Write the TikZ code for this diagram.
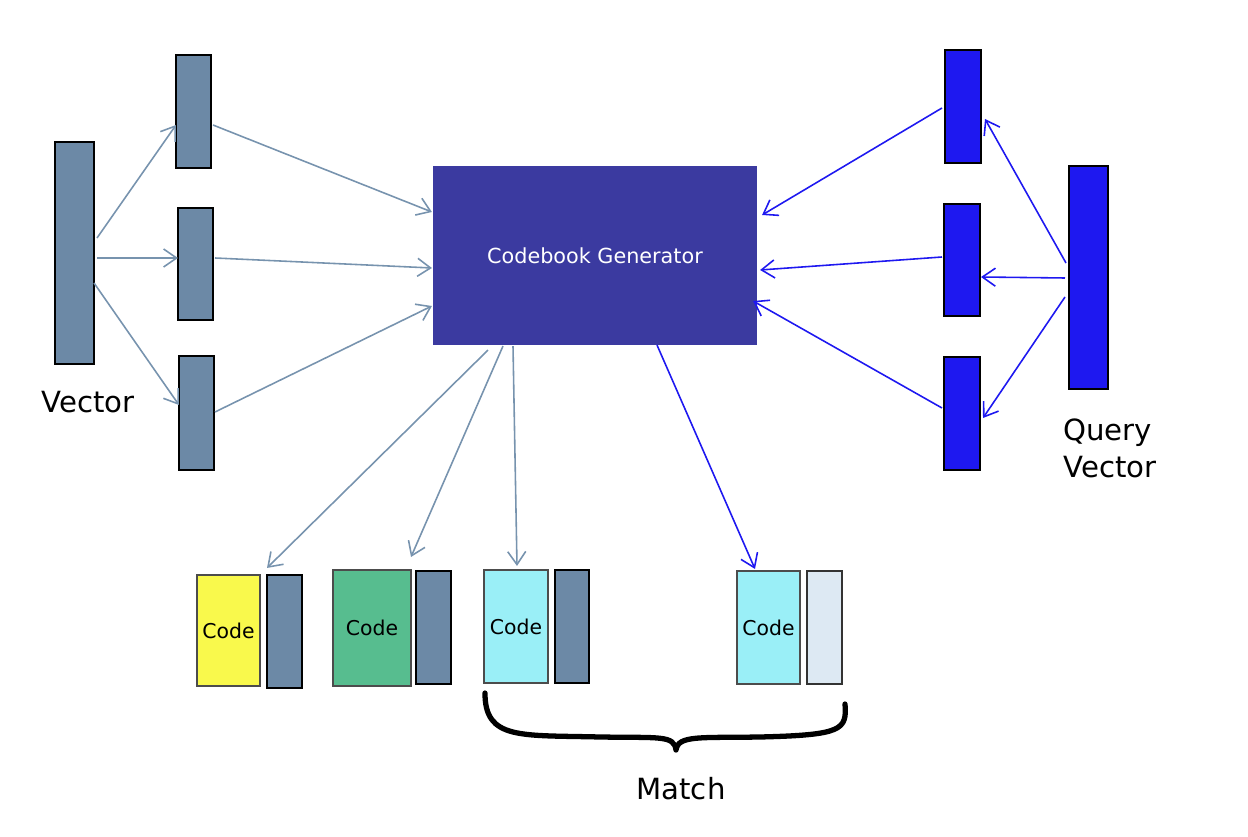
\documentclass[tikz,border=0pt]{standalone}
\usepackage{fontspec}
\setmainfont{DejaVu Sans}
\usetikzlibrary{calc,arrows.meta}
\definecolor{slate}{HTML}{6C89A6}
\definecolor{slatearrow}{HTML}{7793AE}
\definecolor{qblue}{HTML}{1E18F0}
\definecolor{cbfill}{HTML}{3B3AA0}
\definecolor{codeyellow}{HTML}{F9F94C}
\definecolor{codegreen}{HTML}{57BD8F}
\definecolor{codecyan}{HTML}{9AEFF7}
\definecolor{paleblue}{HTML}{DDE9F3}
\tikzset{>={Straight Barb[length=1.3mm,width=1.8mm]}}
\tikzset{
  bar/.style={draw=black,line width=0.6pt,inner sep=0pt,outer sep=0pt},
  vecbar/.style={bar,fill=slate},
  qbar/.style={bar,fill=qblue},
  codebox/.style={draw=black!70,line width=0.4pt,inner sep=0pt,outer sep=0pt,
    font=\fontsize{5.8}{7}\selectfont},
  grayarrow/.style={->,draw=slatearrow,line width=0.45pt},
  bluearrow/.style={->,draw=qblue,line width=0.45pt},
  lbl/.style={font=\fontsize{8.3}{10.5}\selectfont}
}
\begin{document}
\begin{tikzpicture}[x=0.01cm,y=-0.01cm]
\useasboundingbox (0,0) rectangle (1248,837);
% left side
\node[vecbar,minimum width=0.39cm,minimum height=2.22cm] (vec) at (74.5,253) {};
\node[vecbar,minimum width=0.35cm,minimum height=1.13cm] (vA) at (193.5,111.5) {};
\node[vecbar,minimum width=0.35cm,minimum height=1.12cm] (vB) at (195.5,264) {};
\node[vecbar,minimum width=0.35cm,minimum height=1.14cm] (vC) at (196.5,413) {};
\node[lbl] (vlabel) at (88,402) {Vector};
% codebook
\node[fill=cbfill,inner sep=0pt,outer sep=0pt,minimum width=3.24cm,minimum height=1.79cm,
  text=white,font=\fontsize{5.9}{7}\selectfont] (cb) at (595,255.5) {Codebook Generator};
% right side
\node[qbar,minimum width=0.39cm,minimum height=2.23cm] (q) at (1088.5,277.5) {};
\node[qbar,minimum width=0.36cm,minimum height=1.13cm] (qA) at (963,106.5) {};
\node[qbar,minimum width=0.36cm,minimum height=1.12cm] (qB) at (962,260) {};
\node[qbar,minimum width=0.36cm,minimum height=1.13cm] (qC) at (962,413.5) {};
\node[lbl,align=left] (qlabel) at (1110,448) {Query\\Vector};
% codes
\node[codebox,fill=codeyellow,minimum width=0.63cm,minimum height=1.11cm] (c1) at (228.5,630.5) {Code};
\node[vecbar,minimum width=0.35cm,minimum height=1.13cm] (d1) at (284.5,631.5) {};
\node[codebox,fill=codegreen,minimum width=0.78cm,minimum height=1.16cm] (c2) at (372,628) {Code};
\node[vecbar,minimum width=0.35cm,minimum height=1.13cm] (d2) at (433.5,627.5) {};
\node[codebox,fill=codecyan,minimum width=0.64cm,minimum height=1.13cm] (c3) at (516,626.5) {Code};
\node[vecbar,minimum width=0.34cm,minimum height=1.13cm] (d3) at (572,626.5) {};
\node[codebox,fill=codecyan,minimum width=0.63cm,minimum height=1.13cm] (c4) at (768.5,627.5) {Code};
\node[bar,fill=paleblue,draw=black!80,minimum width=0.35cm,minimum height=1.13cm] (d4) at (824.5,627.5) {};
% arrows
\draw[grayarrow] ($(vec.east)+(3,-15)$) -- ($(vA.west)+(0,13.5)$);
\draw[grayarrow] ($(vec.east)+(3,5)$) -- ($(vB.west)+(0,-6)$);
\draw[grayarrow] ($(vec.east)+(0,30)$) -- ($(vC.west)+(0,-8)$);
\draw[grayarrow] ($(vA.east)+(2,13.5)$) -- ($(cb.west)+(-1,-43.5)$);
\draw[grayarrow] ($(vB.east)+(2,-6)$) -- ($(cb.west)+(-1,12.5)$);
\draw[grayarrow] ($(vC.east)+(1,-1)$) -- ($(cb.west)+(-1,50.5)$);
\draw[bluearrow] ($(qA.west)+(-3,1.5)$) -- ($(cb.east)+(5,-40.5)$);
\draw[bluearrow] ($(qB.west)+(-2,-3)$) -- ($(cb.east)+(3,14.5)$);
\draw[bluearrow] ($(qC.west)+(-2,-5.5)$) -- ($(cb.east)+(-4,45.5)$);
\draw[bluearrow] ($(q.west)+(-3,-14.5)$) -- ($(qA.east)+(4,12.5)$);
\draw[bluearrow] ($(q.west)+(-4,0.5)$) -- ($(qB.east)+(1,17)$);
\draw[bluearrow] ($(q.west)+(-4,19.5)$) -- ($(qC.east)+(3,4.5)$);
\draw[grayarrow] ($(cb.south)+(-107,5)$) -- ($(c1.north)+(38.5,-7)$);
\draw[grayarrow] ($(cb.south)+(-92,1)$) -- ($(c2.north)+(39,-13)$);
\draw[grayarrow] ($(cb.south)+(-82,1)$) -- ($(c3.north)+(1,-4)$);
\draw[bluearrow] ($(cb.south)+(62,0)$) -- ($(c4.north)+(-13.5,-2)$);
% brace
\coordinate (brL) at ($(c3.south west)+(1,10)$);
\coordinate (brR) at ($(d4.south east)+(3,20)$);
\draw[line width=1.5pt,line cap=round,line join=round]
  (brL) .. controls (485,740) and (520,735) .. (600,737)
        .. controls (660,738) and (674,735) .. (676,750)
        .. controls (678,735) and (700,738) .. (760,737)
        .. controls (842,735) and (847,730) .. (brR);
\node[lbl] (match) at (681,789) {Match};
\end{tikzpicture}
\end{document}
